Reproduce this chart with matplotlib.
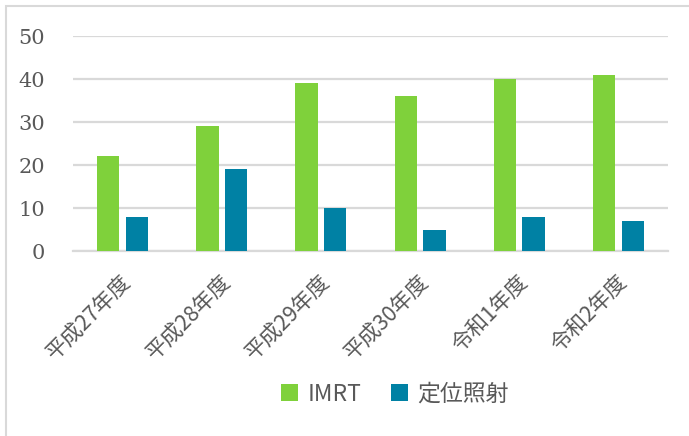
import matplotlib
matplotlib.use("Agg")
import matplotlib.pyplot as plt
from matplotlib.patches import Rectangle
import matplotlib.transforms as mtransforms
import numpy as np

plt.rcParams["font.family"] = ["Noto Sans CJK JP", "DejaVu Sans"]

# data
years = ["平成27年度", "平成28年度", "平成29年度", "平成30年度", "令和1年度", "令和2年度"]
imrt = [22, 29, 39, 36, 40, 41]
teii = [8, 19, 10, 5, 8, 7]
series_names = ["IMRT", "定位照射"]

GREEN = "#7FD13B"
BLUE = "#0081A4"
GRID = "#D9D9D9"
TEXT = "#595959"

W, H = 689, 436
fig = plt.figure(figsize=(W / 100, H / 100), dpi=100)

# chart border (only top and left edges are in frame)
fig.patches.append(Rectangle((6 / W, -0.1), 1.2, 1 - 6 / H + 0.1, transform=fig.transFigure,
                             fill=False, edgecolor=GRID, linewidth=1.5))

ax = fig.add_axes([73 / W, 1 - 251 / H, (668 - 73) / W, (251 - 36) / H])

x = np.arange(len(years))
bw = 0.225
ax.bar(x - 0.145, imrt, bw, color=GREEN, label=series_names[0], zorder=3)
ax.bar(x + 0.145, teii, bw, color=BLUE, label=series_names[1], zorder=3)

ax.set_xlim(-0.5, len(years) - 0.5)
ax.set_ylim(0, 50)
ax.set_yticks(range(0, 51, 10))
ax.yaxis.grid(True, color=GRID, linewidth=1.6, zorder=0)
ax.set_axisbelow(True)
for s in ["top", "right", "left"]:
    ax.spines[s].set_visible(False)
ax.spines["bottom"].set_color(GRID)
ax.spines["bottom"].set_linewidth(1.6)
ax.tick_params(axis="both", length=0)
ax.tick_params(axis="y", pad=20, labelcolor=TEXT)

for lab in ax.get_yticklabels():
    lab.set_family("DejaVu Serif")
    lab.set_fontsize(15)

ax.set_xticks(x)
ax.set_xticklabels(years, rotation=45, ha="right", va="center",
                   rotation_mode="anchor", fontsize=15.5, color=TEXT)
ax.tick_params(axis="x", pad=20)
shift = mtransforms.ScaledTranslation(4 / 72, 0, fig.dpi_scale_trans)
for lab in ax.get_xticklabels():
    lab.set_transform(lab.get_transform() + shift)

leg = fig.legend(loc="center", bbox_to_anchor=(395 / W, 1 - 394 / H), ncol=2,
                 frameon=False, fontsize=16.5, handlelength=0.75, handleheight=0.75,
                 handletextpad=0.4, columnspacing=1.3)
for t in leg.get_texts():
    t.set_color(TEXT)

fig.savefig("out.png", dpi=100)
